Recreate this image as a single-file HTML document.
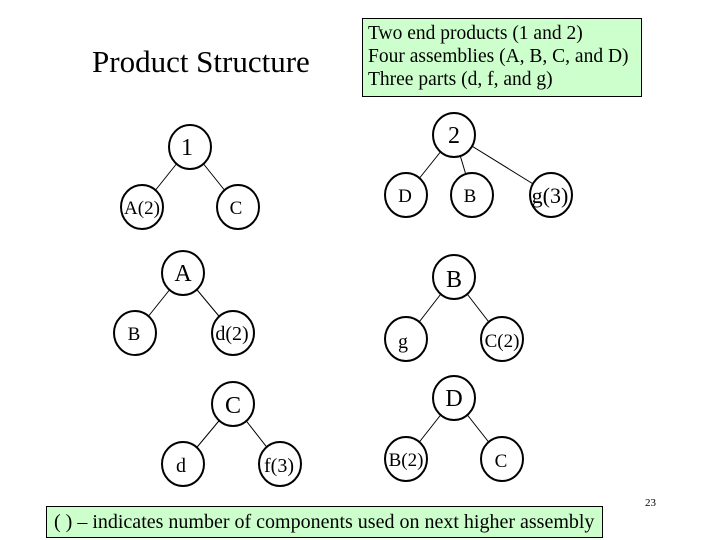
<!DOCTYPE html>
<html><head><style>
body{margin:0;width:720px;height:540px;background:#fff;overflow:hidden;position:relative;font-family:"Liberation Serif",serif}
.t{position:absolute;color:#000}
</style></head><body>
<div class="t" style="left:92px;top:44px;font-size:31px;">Product Structure</div>
<div class="t" style="left:362px;top:18px;width:280px;height:79px;background:#ccffcc;border:1px solid #000;font-size:19.5px;line-height:23px;padding:3px 0 0 5px;box-sizing:border-box;white-space:nowrap;">Two end products (1 and 2)<br>Four assemblies (A, B, C, and D)<br>Three parts (d, f, and g)</div>
<div class="t" style="left:46px;top:506px;width:557px;height:32px;background:#ccffcc;border:1px solid #000;font-size:20px;line-height:30px;padding-left:7px;box-sizing:border-box;white-space:nowrap;">( ) – indicates number of components used on next higher assembly</div>
<div class="t" style="left:645px;top:497px;font-size:11px;">23</div>
<svg width="720" height="540" style="position:absolute;left:0;top:0" font-family="Liberation Serif, serif" font-size="20" text-anchor="middle">
<g stroke="#000" stroke-width="1">
<line x1="190" y1="147" x2="142" y2="207"/><line x1="190" y1="147" x2="238" y2="207"/>
<line x1="454" y1="135" x2="406" y2="195"/><line x1="454" y1="135" x2="472" y2="195"/><line x1="454" y1="135" x2="551" y2="195"/>
<line x1="183" y1="273" x2="135" y2="333"/><line x1="183" y1="273" x2="233" y2="333"/>
<line x1="454" y1="277" x2="406" y2="339"/><line x1="454" y1="277" x2="502" y2="339"/>
<line x1="233" y1="404" x2="183" y2="464"/><line x1="233" y1="404" x2="280" y2="464"/>
<line x1="454" y1="398" x2="406" y2="459"/><line x1="454" y1="398" x2="502" y2="459"/>
</g>
<g fill="#fff" stroke="#000" stroke-width="2">
<ellipse cx="190" cy="147" rx="21" ry="22"/><ellipse cx="142" cy="207" rx="21" ry="22"/><ellipse cx="238" cy="207" rx="21" ry="22"/>
<ellipse cx="454" cy="135" rx="21" ry="22"/><ellipse cx="406" cy="195" rx="21" ry="22"/><ellipse cx="472" cy="195" rx="21" ry="22"/><ellipse cx="551" cy="195" rx="21" ry="22"/>
<ellipse cx="183" cy="273" rx="21" ry="22"/><ellipse cx="135" cy="333" rx="21" ry="22"/><ellipse cx="233" cy="333" rx="21" ry="22"/>
<ellipse cx="454" cy="277" rx="21" ry="22"/><ellipse cx="406" cy="339" rx="21" ry="22"/><ellipse cx="502" cy="339" rx="21" ry="22"/>
<ellipse cx="233" cy="404" rx="21" ry="22"/><ellipse cx="183" cy="464" rx="21" ry="22"/><ellipse cx="280" cy="464" rx="21" ry="22"/>
<ellipse cx="454" cy="398" rx="21" ry="22"/><ellipse cx="406" cy="459" rx="21" ry="22"/><ellipse cx="502" cy="459" rx="21" ry="22"/>
</g>
<g fill="#000">
<text x="187" y="155" font-size="24">1</text>
<text x="142" y="214" font-size="19">A(2)</text>
<text x="236" y="214" font-size="19">C</text>
<text x="454" y="143" font-size="24">2</text>
<text x="405" y="202" font-size="19">D</text>
<text x="470" y="202" font-size="19">B</text>
<text x="550" y="203" font-size="22">g(3)</text>
<text x="183" y="281" font-size="24">A</text>
<text x="134" y="340" font-size="19">B</text>
<text x="232" y="340" font-size="20">d(2)</text>
<text x="454" y="287" font-size="24">B</text>
<text x="403" y="348" font-size="20">g</text>
<text x="502" y="347" font-size="19">C(2)</text>
<text x="233" y="413" font-size="24">C</text>
<text x="181" y="472" font-size="20">d</text>
<text x="279" y="472" font-size="20">f(3)</text>
<text x="454" y="406" font-size="24">D</text>
<text x="406" y="466" font-size="19">B(2)</text>
<text x="501" y="467" font-size="19">C</text>
</g>
</svg>
</body></html>
